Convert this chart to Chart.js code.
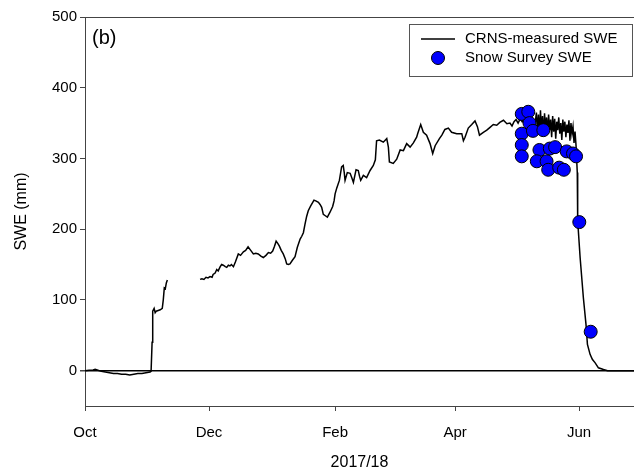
<!DOCTYPE html>
<html>
<head>
<meta charset="utf-8">
<script src="https://cdn.jsdelivr.net/npm/chart.js@4"></script>
<style>
  html, body { margin: 0; padding: 0; background: #fff; }
  #wrap { width: 634px; height: 473px; position: relative; }
</style>
</head>
<body>
<div id="wrap"><canvas id="c" width="634" height="473"></canvas></div>
<script>
// Days since 1 Oct 2017
const monthTickDays = [0, 61, 123, 182, 243];
const monthLabels = ['Oct', 'Dec', 'Feb', 'Apr', 'Jun'];
const yTickValues = [0, 100, 200, 300, 400, 500];

// CRNS-measured SWE (mm), null = data gap
const crnsDays = [
  0, 2, 4, 5, 6, 8, 10, 12, 14, 16, 18, 20, 22, 24, 26, 28, 30, 32, 32.5, 33, 33.3, 34, 34.5, 35, 36, 37, 38, 38.5, 39, 39.5, 40, 40.5,
  48,
  56.6, 57.5, 58.5, 59.5, 60.5, 61.5, 62.5, 63, 64, 64.8, 65.5, 66.5, 67.2, 68, 69, 69.7, 70.5, 71.3, 72, 73, 74, 75.4, 76.5, 77.9, 79, 80.2,
  81.5, 82.8, 84, 85.2, 86.5, 87.7, 89, 90.2, 91.3, 92.3, 93.2, 94, 94.8, 95.6, 96.5, 97.5, 98.5, 99.2, 100, 100.8, 102, 103.3, 104.4,
  105.8, 106.6, 107.4, 108.2, 109, 109.8, 111, 112, 112.6, 113.5, 114.8, 115.6, 116.4, 117.2, 118.2, 119.2, 120.5, 121.8, 122.5, 123,
  123.8, 125.1, 126.2, 127, 127.5, 127.9, 129, 130.4, 131.3, 132, 133.3, 134.4, 135, 135.6, 136.9, 138.5, 140.2, 141.8, 142.8, 143.4,
  144.8, 146.7, 148.4, 149.2, 149.7, 151.6, 153.3, 155, 156.6, 158.2, 159.9, 161.5, 163.1, 163.6, 165.1, 166.4, 168, 169.7, 171, 172.2,
  174.3, 175.5, 177, 178.7, 180.3, 182.8, 185.3, 186.1, 186.9, 188.5, 190.2, 191.8, 193, 194, 195.9, 197.6, 199.2, 200.8, 202.5, 204,
  205.8, 207.5, 209, 210, 211, 212, 213, 214, 215, 216, 217, 218, 219, 220, 221, 222, 222.5, 223, 223.5, 224, 224.5, 225, 225.5, 226,
  226.5, 227, 227.5, 228, 228.5, 229, 229.5, 230, 230.5, 231, 231.5, 232, 232.5, 233, 233.5, 234, 234.5, 235, 235.5, 236, 236.5, 237,
  237.5, 238, 238.5, 239, 239.5, 240, 240.5, 241, 241.5, 241.8, 242.1, 242.3, 243.5, 245.1, 246.4, 247.1, 248.4, 249.5, 250.9, 252.5,
  255, 257, 270
];
const crnsSWE = [
  0, 0.5, 1, 2, 1, -1, -2, -3, -4, -4, -5, -5, -6, -5, -4, -4, -3, -2, -1, 40, 84, 88, 82, 84, 85, 86, 88, 100, 117, 116, 124, 128,
  null,
  129, 130, 129, 132, 131, 133, 132, 136, 138, 143, 141, 147, 150, 149, 147, 146, 149, 148, 150, 147, 154, 165, 163, 168, 170, 175,
  170, 165, 166, 165, 162, 160, 163, 167, 166, 169, 176, 183, 180, 176, 170, 165, 158, 151, 150, 151, 156, 161, 174,
  186, 190, 195, 207, 218, 226, 233, 238, 241, 240, 238, 235, 231, 221, 219, 217, 224, 232, 240, 250,
  258, 269, 288, 290, 280, 269, 280, 279, 272, 266, 284, 283, 275, 269, 276, 273, 283, 290, 298, 325,
  326, 323, 328, 316, 295, 293, 299, 312, 311, 321, 316, 322, 330, 335, 348, 337, 333, 321, 307, 318,
  328, 333, 341, 343, 337, 335, 335, 325, 330, 343, 348, 353, 345, 333, 337, 340, 344, 348, 347, 351,
  354, 349, 350, 346, 352, 355, 350, 356, 352, 358, 350, 355, 345, 352, 340, 365, 338, 362, 335, 368, 340, 360, 332, 364,
  342, 358, 335, 362, 340, 355, 330, 360, 338, 356, 328, 352, 340, 358, 335, 350, 326, 355, 338, 352, 330, 348,
  336, 354, 325, 350, 335, 345, 322, 338, 318, 318, 280, 212, 160, 103, 65, 37, 23, 16, 11, 4,
  1.5, 0, 0
];

// Snow survey SWE (mm)
const surveyDays = [214.8, 218, 218.6, 214.8, 220.3, 225.4, 214.8, 214.8, 223.5, 228.6, 231.2, 222.2, 227, 227.8, 233.2, 235.5, 236.9, 240, 241.5, 243.1, 248.7];
const surveySWE  = [363, 366, 350, 335, 339, 340, 319, 303, 312, 314, 316, 296, 296, 284, 287, 284, 310, 307, 303, 210, 55];

const FONT = "'Liberation Sans', Arial, sans-serif";

const crnsPoints = crnsDays.map((d, i) => ({ x: d, y: crnsSWE[i] }));
const surveyPoints = surveyDays.map((d, i) => ({ x: d, y: surveySWE[i] }));

const extrasPlugin = {
  id: 'extras',
  afterDraw(chart) {
    const ctx = chart.ctx;
    ctx.save();
    // panel label
    ctx.fillStyle = '#000';
    ctx.font = '20px ' + FONT;
    ctx.textBaseline = 'middle';
    ctx.textAlign = 'left';
    ctx.fillText('(b)', 92, 38);
    // legend box
    ctx.strokeStyle = '#555';
    ctx.lineWidth = 1;
    ctx.strokeRect(409.5, 24.5, 223, 52);
    // line sample
    ctx.strokeStyle = '#000';
    ctx.lineWidth = 1.5;
    ctx.beginPath();
    ctx.moveTo(421, 39);
    ctx.lineTo(455, 39);
    ctx.stroke();
    // circle sample
    ctx.beginPath();
    ctx.arc(438, 58, 6.5, 0, Math.PI * 2);
    ctx.fillStyle = '#0000FF';
    ctx.fill();
    ctx.lineWidth = 1;
    ctx.strokeStyle = '#000';
    ctx.stroke();
    // texts
    ctx.fillStyle = '#000';
    ctx.font = '15px ' + FONT;
    ctx.fillText('CRNS-measured SWE', 465, 39);
    ctx.fillText('Snow Survey SWE', 465, 58);
    ctx.restore();
  }
};

new Chart(document.getElementById('c'), {
  type: 'line',
  data: {
    datasets: [
      {
        label: 'Snow Survey SWE',
        data: surveyPoints,
        showLine: false,
        pointRadius: 6.5,
        pointBackgroundColor: '#0000FF',
        pointBorderColor: '#000',
        pointBorderWidth: 1,
        order: 0
      },
      {
        label: 'CRNS-measured SWE',
        data: crnsPoints,
        borderColor: '#000',
        borderWidth: 1.5,
        pointRadius: 0,
        tension: 0,
        spanGaps: false,
        order: 1
      }
    ]
  },
  options: {
    responsive: false,
    animation: false,
    layout: { padding: 0, autoPadding: false },
    plugins: { legend: { display: false }, tooltip: { enabled: false } },
    scales: {
      x: {
        type: 'linear',
        position: 'bottom',
        min: 0,
        max: 270,
        afterBuildTicks: (s) => { s.ticks = monthTickDays.map(v => ({ value: v })); },
        afterFit: (s) => { s.height = 67; },
        ticks: {
          autoSkip: false,
          maxRotation: 0,
          padding: 13,
          color: '#000',
          font: { family: FONT, size: 15 },
          callback: (v) => { const i = monthTickDays.indexOf(v); return i >= 0 ? monthLabels[i] : ''; }
        },
        grid: { display: true, drawOnChartArea: false, drawTicks: true, tickLength: 5, tickColor: '#444' },
        border: { display: true, color: '#444', width: 1 },
        title: { display: true, text: '2017/18', color: '#000', font: { family: FONT, size: 16 }, padding: { top: 0, bottom: 1 } }
      },
      x2: {
        type: 'linear',
        position: 'top',
        min: 0,
        max: 270,
        afterFit: (s) => { s.height = 17; },
        ticks: { display: false },
        grid: { display: false },
        border: { display: true, color: '#444', width: 1 }
      },
      y: {
        type: 'linear',
        min: -50,
        max: 500,
        afterBuildTicks: (s) => { s.ticks = yTickValues.map(v => ({ value: v })); },
        afterFit: (s) => { s.width = 85; },
        ticks: {
          padding: 3,
          color: '#000',
          font: { family: FONT, size: 15 }
        },
        grid: {
          display: true,
          drawOnChartArea: true,
          drawTicks: true,
          tickLength: 5,
          tickColor: '#444',
          color: (c) => (c.tick && c.tick.value === 0) ? '#000' : 'rgba(0,0,0,0)',
          lineWidth: (c) => (c.tick && c.tick.value === 0) ? 1.5 : 1
        },
        border: { display: true, color: '#444', width: 1 },
        title: { display: true, text: 'SWE (mm)', color: '#000', font: { family: FONT, size: 16 }, padding: { top: 12, bottom: 0 } }
      }
    }
  },
  plugins: [extrasPlugin]
});
</script>
</body>
</html>
